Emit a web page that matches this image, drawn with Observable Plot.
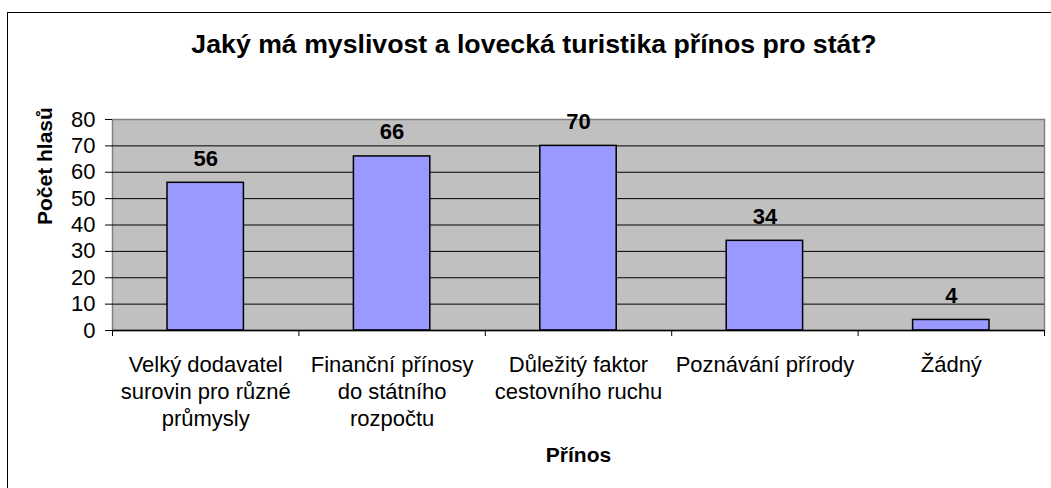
<!DOCTYPE html>
<html>
<head>
<meta charset="utf-8">
<script src="https://cdn.jsdelivr.net/npm/d3@7"></script>
<script src="https://cdn.jsdelivr.net/npm/@observablehq/plot@0.6"></script>
<style>
html, body { margin: 0; padding: 0; background: #fff; }
#wrap { position: relative; width: 1051px; height: 488px; overflow: hidden;
  font-family: "Liberation Sans", Arial, sans-serif; color: #000; }
#border { position: absolute; left: 7px; top: 12px; width: 1200px; height: 700px;
  border-left: 1.5px solid #000; border-top: 1.5px solid #000; }
#title { position: absolute; left: 0; top: 31px; width: 1068px; text-align: center;
  font-size: 26.7px; line-height: 26px; font-weight: bold; white-space: nowrap; }
#chart { position: absolute; left: 0; top: 70px; }
</style>
</head>
<body>
<div id="wrap">
  <div id="border"></div>
  <div id="title"></div>
  <div id="chart"></div>
</div>
<script>
const titleText = "Jaký má myslivost a lovecká turistika přínos pro stát?";
const yTitle = "Počet hlasů";
const xTitle = "Přínos";
const categories = [
  "Velký dodavatel\nsurovin pro různé\nprůmysly",
  "Finanční přínosy\ndo státního\nrozpočtu",
  "Důležitý faktor\ncestovního ruchu",
  "Poznávání přírody",
  "Žádný"
];
const votes = [56, 66, 70, 34, 4];
const yTicks = [0, 10, 20, 30, 40, 50, 60, 70, 80];

document.getElementById("title").textContent = titleText;

const data = categories.map((c, i) => ({c, i, v: votes[i]}));
const bounds = d3.range(categories.length + 1);
const font = '"Liberation Sans", Arial, sans-serif';

const chart = Plot.plot({
  width: 1051,
  height: 418,
  marginLeft: 112,
  marginRight: 7,
  marginTop: 49,
  marginBottom: 158,
  x: {type: "linear", domain: [0, categories.length], axis: null, label: null},
  y: {domain: [0, 80], axis: null, label: null},
  style: {fontFamily: font, background: "transparent", color: "#000", overflow: "visible"},
  marks: [
    Plot.frame({fill: "#C0C0C0", stroke: "#808080", strokeWidth: 1.5}),
    Plot.gridY(yTicks.filter(t => t > 0 && t < 80), {stroke: "#000", strokeOpacity: 1, strokeWidth: 1}),
    Plot.rectY(data, {x1: "i", x2: d => d.i + 1, y: "v", insetLeft: 55, insetRight: 55,
      fill: "#9999FF", stroke: "#000", strokeWidth: 1.5}),
    Plot.ruleY([0], {stroke: "#000", strokeWidth: 1.5}),
    Plot.axisY(yTicks, {anchor: "left", label: null, tickSize: 7, tickPadding: 10, fontSize: 22,
      tickFormat: d => String(d), stroke: "#000"}),
    Plot.axisX(bounds, {anchor: "bottom", label: null, tickSize: 6, tickFormat: () => "", stroke: "#000"}),
    Plot.text(data, {x: d => d.i + 0.5, y: "v", text: d => String(d.v), lineAnchor: "bottom",
      dy: -17, fontSize: 22, fontWeight: "bold", fill: "#000"}),
    Plot.text(data, {x: d => d.i + 0.5, y: d => 0, text: "c", lineAnchor: "top",
      dy: 22, fontSize: 22, lineHeight: 1.24, fill: "#000"}),
    Plot.text([xTitle], {frameAnchor: "bottom", text: d => d, lineAnchor: "middle",
      dy: 125, fontSize: 21, fontWeight: "bold", fill: "#000"}),
    Plot.text([yTitle], {frameAnchor: "left", text: d => d, rotate: -90, lineAnchor: "middle",
      dx: -67, fontSize: 21, fontWeight: "bold", fill: "#000"})
  ]
});
document.getElementById("chart").appendChild(chart);
</script>
</body>
</html>
